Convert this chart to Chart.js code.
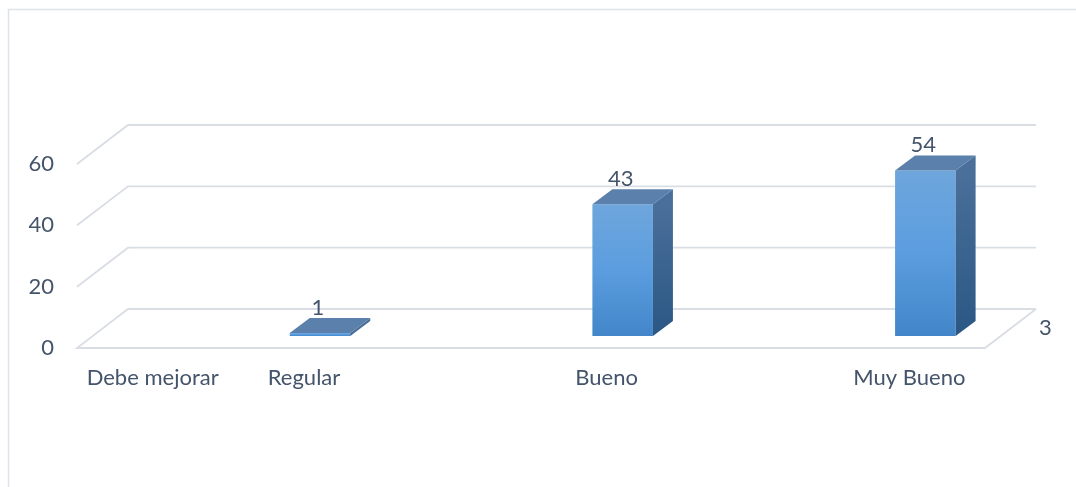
<!DOCTYPE html>
<html>
<head>
<meta charset="utf-8">
<script src="https://cdn.jsdelivr.net/npm/chart.js@4"></script>
<style>
  body { margin: 0; background: #fff; }
  canvas { display: block; }
</style>
</head>
<body>
<canvas id="grafico" width="1076" height="487"></canvas>
<script>
// datos
const categorias = ['Debe mejorar', 'Regular', '', 'Bueno', '', 'Muy Bueno'];
const valores = [null, 1, null, 43, null, 54];
const marcasY = [0, 20, 40, 60];
const nombreSerie = '3';

const colorTexto = '#44546a';
const colorGrid = '#d9dde4';
// desplazamientos de la perspectiva 3D
const PARED_DX = 51, PARED_DY = -39;
const BARRA_DX = 16, BARRA_DY = -12;
const PROF_DX = 20, PROF_DY = -15;

Chart.defaults.font.family = 'Lato';
Chart.defaults.font.size = 22;
Chart.defaults.color = colorTexto;

const efecto3d = {
    id: 'efecto3d',
    beforeDraw(chart) {
        const c = chart.ctx;
        c.save();
        c.strokeStyle = '#dfe3e9';
        c.lineWidth = 1.5;
        c.beginPath();
        c.moveTo(8.5, chart.height);
        c.lineTo(8.5, 9.5);
        c.lineTo(chart.width, 9.5);
        c.stroke();
        c.restore();
    },
    beforeDatasetsDraw(chart) {
        const c = chart.ctx;
        const a = chart.chartArea;
        const y = chart.scales.y;
        c.save();
        c.strokeStyle = colorGrid;
        c.lineWidth = 1.8;
        marcasY.forEach(v => {
            const py = y.getPixelForValue(v);
            c.beginPath();
            if (v === 0) {
                c.moveTo(a.right + PARED_DX, py + PARED_DY);
                c.lineTo(a.right, py);
                c.lineTo(a.left, py);
            } else {
                c.moveTo(a.left, py);
            }
            c.lineTo(a.left + PARED_DX, py + PARED_DY);
            c.lineTo(a.right + PARED_DX, py + PARED_DY);
            c.stroke();
        });
        c.restore();
        // las caras frontales se dibujan desplazadas hacia el fondo
        c.save();
        c.translate(BARRA_DX, BARRA_DY);
    },
    afterDatasetsDraw(chart) {
        const c = chart.ctx;
        const meta = chart.getDatasetMeta(0);
        meta.data.forEach((bar, i) => {
            if (valores[i] == null) return;
            const w = bar.width;
            const l = bar.x - w / 2, r = bar.x + w / 2;
            const t = bar.y, b = bar.base;
            // cara superior
            c.fillStyle = '#5a80ab';
            c.beginPath();
            c.moveTo(l, t);
            c.lineTo(l + PROF_DX, t + PROF_DY);
            c.lineTo(r + PROF_DX, t + PROF_DY);
            c.lineTo(r, t);
            c.closePath();
            c.fill();
            // cara lateral
            const g = c.createLinearGradient(0, t, 0, b);
            g.addColorStop(0, '#4a6f9a');
            g.addColorStop(1, '#2b5784');
            c.fillStyle = g;
            c.beginPath();
            c.moveTo(r, t);
            c.lineTo(r + PROF_DX, t + PROF_DY);
            c.lineTo(r + PROF_DX, b + PROF_DY);
            c.lineTo(r, b);
            c.closePath();
            c.fill();
            // etiqueta de valor
            c.fillStyle = colorTexto;
            c.font = '22px Lato';
            c.textAlign = 'center';
            c.textBaseline = 'alphabetic';
            c.fillText(String(valores[i]), bar.x - 2, t - 18);
        });
        c.restore();
        // eje de profundidad
        const a = chart.chartArea;
        c.save();
        c.fillStyle = colorTexto;
        c.font = '22px Lato';
        c.textAlign = 'left';
        c.textBaseline = 'middle';
        c.fillText(nombreSerie, a.right + 54, a.bottom - 20);
        c.restore();
    }
};

new Chart(document.getElementById('grafico'), {
    type: 'bar',
    data: {
        labels: categorias,
        datasets: [{
            label: nombreSerie,
            data: valores,
            borderWidth: 0,
            barPercentage: 0.4,
            categoryPercentage: 1,
            clip: false,
            backgroundColor: (ctx) => {
                const chart = ctx.chart;
                if (!chart.chartArea || ctx.raw == null) return '#5b9bd5';
                const y = chart.scales.y;
                const g = chart.ctx.createLinearGradient(0, y.getPixelForValue(ctx.raw), 0, y.getPixelForValue(0));
                g.addColorStop(0, '#6ea6dc');
                g.addColorStop(0.5, '#5b9ddf');
                g.addColorStop(1, '#4286c9');
                return g;
            }
        }]
    },
    options: {
        responsive: false,
        devicePixelRatio: 1,
        animation: false,
        layout: { padding: { left: 9, right: 91, top: 164, bottom: 0 } },
        plugins: {
            legend: { display: false },
            tooltip: { enabled: false }
        },
        scales: {
            x: {
                grid: { display: false, drawTicks: false },
                border: { display: false },
                ticks: { autoSkip: false, maxRotation: 0, padding: 17 },
                afterFit: (s) => { s.height = 139; }
            },
            y: {
                min: 0,
                max: 60,
                grid: { display: false, drawTicks: false },
                border: { display: false },
                ticks: { stepSize: 20, padding: 23 },
                afterFit: (s) => { s.width = 68; }
            }
        }
    },
    plugins: [efecto3d]
});
</script>
</body>
</html>
